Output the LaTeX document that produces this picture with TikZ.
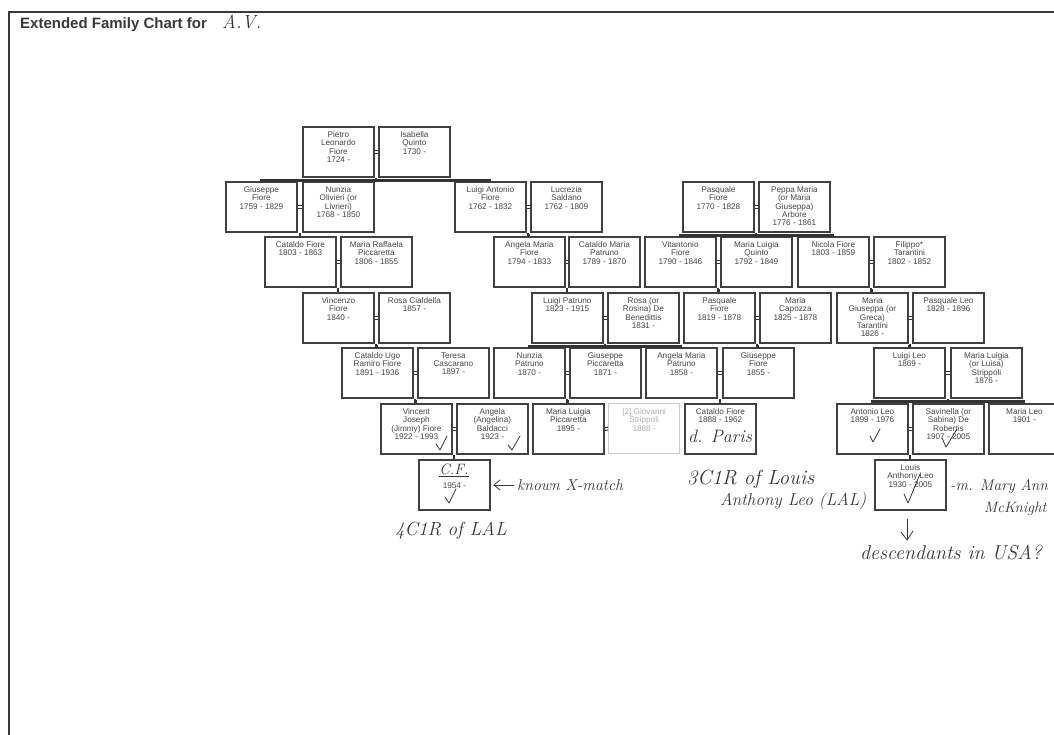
\documentclass[tikz,border=0pt]{standalone}
\usepackage{fontspec}
\setsansfont{Liberation Sans}
\usetikzlibrary{calc}
\tikzset{
  pbox/.style={draw=gray!50!black, line width=1.8pt, fill=white, minimum width=71pt, minimum height=50pt, inner sep=0pt, anchor=north west},
  ptext/.style={anchor=north, align=center, inner sep=0pt, font=\sffamily\fontsize{8.2}{8.3}\selectfont, text=black!72},
  conn/.style={draw=gray!40!black, line width=2.1pt},
  wedline/.style={draw=gray!40!black, line width=1.1pt},
  hand/.style={anchor=base west, inner sep=0pt, text=black!78, font=\rmfamily\itshape\fontsize{#1}{#1}\selectfont},
  tick/.style={draw=black!78, line width=0.8pt, line cap=round, line join=round},
  frame/.style={draw=gray!45!black, line width=2pt}
}
\newcommand\pb[4]{\node[pbox] (#1) at (#2,#3) {}; \node[ptext] (#1-t) at ([yshift=-5.3pt]#1.north) {#4};}
\newcommand\wed[2]{\draw[wedline] ([yshift=1.4pt]#1.east) -- ([yshift=1.4pt]#2.west); \draw[wedline] ([yshift=-1.4pt]#1.east) -- ([yshift=-1.4pt]#2.west);}
\newcommand\kid[3]{\draw[conn] ($(#1.south east)!.5!(#2.south west)$) -- ++(0,2.7) -| (#3.north);}
\begin{document}
\begin{tikzpicture}[x=1pt,y=-1pt]
\useasboundingbox (0,0) rectangle (1054,735);
\clip (0,0) rectangle (1054,735);
\fill[white] (0,0) rectangle (1054,735);
% frame
\draw[frame] (9,735) -- (9,12) -- (1054,12);
% title
\node[anchor=base west, inner sep=0pt, font=\sffamily\bfseries\fontsize{15}{15}\selectfont, text=gray!45!black] (title) at (20,28.5) {Extended Family Chart for};
\node[hand=19] (av) at (222,29) {A.V.};

% row 1
\pb{pietro}{302}{126}{Pietro\\Leonardo\\Fiore\\1724 -}
\pb{isabella}{378}{126}{Isabella\\Quinto\\1730 -}
% row 2
\pb{giuseppe1}{225}{181}{Giuseppe\\Fiore\\1759 - 1829}
\pb{nunzia1}{302}{181}{Nunzia\\Olivieri (or\\Livrieri)\\1768 - 1850}
\pb{luigiant}{454}{181}{Luigi Antonio\\Fiore\\1762 - 1832}
\pb{lucrezia}{530}{181}{Lucrezia\\Saldano\\1762 - 1809}
\pb{pasq1}{682}{181}{Pasquale\\Fiore\\1770 - 1828}
\pb{peppa}{758}{181}{Peppa Maria\\(or Maria\\Giuseppa)\\Arbore\\1776 - 1861}
% row 3
\pb{cataldo1}{264}{236}{Cataldo Fiore\\1803 - 1863}
\pb{mraff}{340}{236}{Maria Raffaela\\Piccaretta\\1806 - 1855}
\pb{angelaf}{493}{236}{Angela Maria\\Fiore\\1794 - 1833}
\pb{catpat}{568}{236}{Cataldo Maria\\Patruno\\1789 - 1870}
\pb{vitant}{644}{236}{Vitantonio\\Fiore\\1790 - 1846}
\pb{mlquinto}{720}{236}{Maria Luigia\\Quinto\\1792 - 1849}
\pb{nicola}{797}{236}{Nicola Fiore\\1803 - 1859}
\pb{filippo}{873}{236}{Filippo*\\Tarantini\\1802 - 1852}
% row 4
\pb{vincenzo}{302}{292}{Vincenzo\\Fiore\\1840 -}
\pb{rosac}{378}{292}{Rosa Cialdella\\1857 -}
\pb{luigipat}{531}{292}{Luigi Patruno\\1823 - 1915}
\pb{rosadb}{607}{292}{Rosa (or\\Rosina) De\\Benedittis\\1831 -}
\pb{pasq2}{683}{292}{Pasquale\\Fiore\\1819 - 1878}
\pb{mcapozza}{759}{292}{Maria\\Capozza\\1825 - 1878}
\pb{mgt}{836}{292}{Maria\\Giuseppa (or\\Greca)\\Tarantini\\1826 -}
\pb{pasqleo}{912}{292}{Pasquale Leo\\1828 - 1896}
% row 5
\pb{catugo}{341}{347}{Cataldo Ugo\\Ramiro Fiore\\1891 - 1936}
\pb{teresa}{417}{347}{Teresa\\Cascarano\\1897 -}
\pb{nunziap}{493}{347}{Nunzia\\Patruno\\1870 -}
\pb{giupic}{569}{347}{Giuseppe\\Piccaretta\\1871 -}
\pb{amp}{645}{347}{Angela Maria\\Patruno\\1858 -}
\pb{giufiore}{722}{347}{Giuseppe\\Fiore\\1855 -}
\pb{luigileo}{873}{347}{Luigi Leo\\1869 -}
\pb{mls}{950}{347}{Maria Luigia\\(or Luisa)\\Strippoli\\1876 -}
% row 6
\pb{vincent}{380}{403}{Vincent\\Joseph\\(Jimmy) Fiore\\1922 - 1993}
\pb{angelab}{456}{403}{Angela\\(Angelina)\\Baldacci\\1923 -}
\pb{mlp}{532}{403}{Maria Luigia\\Piccaretta\\1895 -}
\node[pbox, draw=gray!40, line width=1.3pt] (giovanni) at (608,403) {};
\node[ptext, text=gray!60] (giovanni-t) at ([yshift=-5.3pt]giovanni.north) {[2] Giovanni\\Strippoli\\1888 -};
\pb{cataldo2}{684}{403}{Cataldo Fiore\\1888 - 1962}
\pb{antonio}{836}{403}{Antonio Leo\\1899 - 1976}
\pb{savinella}{912}{403}{Savinella (or\\Sabina) De\\Robertis\\1907 - 2005}
\pb{marialeo}{988}{403}{Maria Leo\\1901 -}
% row 7
\node[pbox] (cf) at (418,459) {};
\node[ptext] (cf-t) at ([yshift=-24pt]cf.north) {1954 -};
\pb{louis}{874}{459}{Louis\\Anthony Leo\\1930 - 2005}

% marriages
\wed{pietro}{isabella}
\wed{giuseppe1}{nunzia1}
\wed{luigiant}{lucrezia}
\wed{pasq1}{peppa}
\wed{cataldo1}{mraff}
\wed{angelaf}{catpat}
\wed{vitant}{mlquinto}
\wed{nicola}{filippo}
\wed{vincenzo}{rosac}
\wed{luigipat}{rosadb}
\wed{pasq2}{mcapozza}
\wed{mgt}{pasqleo}
\wed{catugo}{teresa}
\wed{nunziap}{giupic}
\wed{amp}{giufiore}
\wed{luigileo}{mls}
\wed{vincent}{angelab}
\wed{mlp}{giovanni}
\wed{antonio}{savinella}

% parent-child
\kid{pietro}{isabella}{giuseppe1}
\kid{pietro}{isabella}{luigiant}
\kid{giuseppe1}{nunzia1}{cataldo1}
\kid{luigiant}{lucrezia}{angelaf}
\kid{pasq1}{peppa}{vitant}
\kid{pasq1}{peppa}{nicola}
\kid{cataldo1}{mraff}{vincenzo}
\kid{angelaf}{catpat}{luigipat}
\kid{vitant}{mlquinto}{pasq2}
\kid{nicola}{filippo}{mgt}
\kid{vincenzo}{rosac}{catugo}
\kid{luigipat}{rosadb}{nunziap}
\kid{luigipat}{rosadb}{amp}
\kid{pasq2}{mcapozza}{giufiore}
\kid{mgt}{pasqleo}{luigileo}
\kid{catugo}{teresa}{vincent}
\kid{nunziap}{giupic}{mlp}
\kid{amp}{giufiore}{cataldo2}
\kid{luigileo}{mls}{antonio}
\kid{luigileo}{mls}{marialeo}
\kid{vincent}{angelab}{cf}
\kid{antonio}{savinella}{louis}

% handwritten notes
\node[hand=15, anchor=base] (cfname) at (454,474) {\underline{C.F.}};
\node[hand=18] (dparis) at (688,442) {d. Paris};
\draw[tick] (436,444) -- (440,450) -- (447,436);
\draw[tick] (508,445) -- (512,450) -- (520,436);
\draw[tick] (445,497) -- (449,503) -- (456,489);
\draw[tick] (870,436) -- (873,442) -- (880,429);
\draw[tick] (942,438) -- (946,447) -- (957,429);
\draw[tick] (904,494) -- (908,503) -- (920,474);

\draw[tick] (514,485) -- (494,485);
\draw[tick] (500,480) -- (494,485) -- (500,490);
\node[hand=15.8] (knx) at (517,490) {known X-match};
\node[hand=19] (c4) at (395,535) {4C1R of LAL};
\node[hand=20.5] (c3a) at (687,484) {3C1R of Louis};
\node[hand=17.2] (c3b) at (720,505) {Anthony Leo (LAL)};
\node[hand=15.5] (mary1) at (950,490) {-m. Mary Ann};
\node[hand=15] (mary2) at (984,512) {McKnight};
\draw[tick] (907,519) -- (907,540);
\draw[tick] (901,532) -- (907,540) -- (913,531);
\node[hand=20] (desc) at (860,559) {descendants in USA?};
\end{tikzpicture}
\end{document}
